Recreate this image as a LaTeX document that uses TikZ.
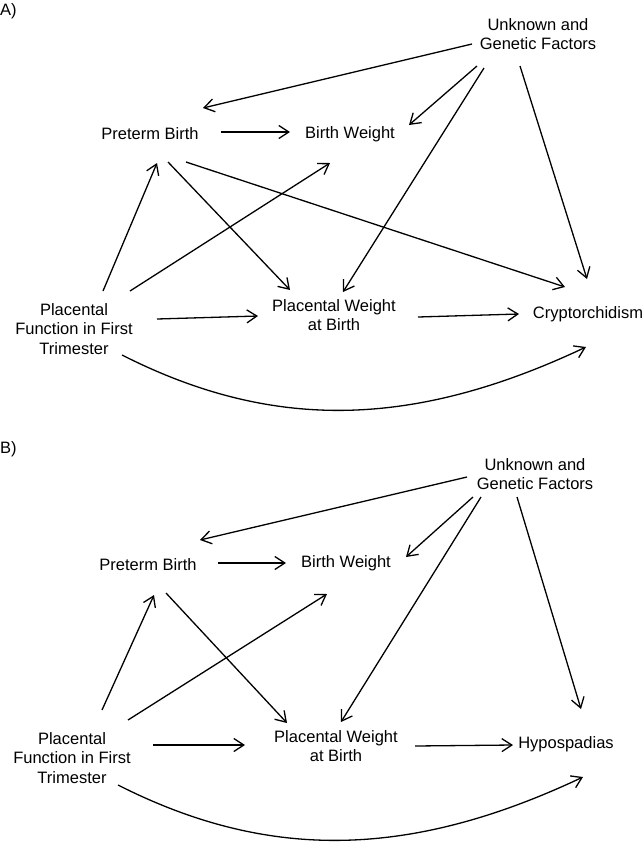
\documentclass[tikz,border=0pt]{standalone}
\usepackage{fontspec}
\setmainfont{Liberation Sans}
\usetikzlibrary{arrows.meta}

\begin{document}
\begin{tikzpicture}[x=1pt,y=-1pt,
  var/.style={font=\fontsize{16.5}{19.5}\selectfont,align=center,inner sep=0pt},
  arr/.style={line width=1.3pt,-{Straight Barb[length=10pt,width=13pt]}}]
  \useasboundingbox (0,0) rectangle (644,847);

  % panel A
  \node[var,anchor=west] (labA) at (0,11)   {A)};
  \node[var]             (ugfA) at (538,34)  {Unknown and\\Genetic Factors};
  \node[var]             (preA) at (150,134) {Preterm Birth};
  \node[var]             (bwA)  at (350,134) {Birth Weight};
  \node[var]             (pfA)  at (74,329)  {Placental\\Function in First\\Trimester};
  \node[var]             (pwbA) at (334,315) {Placental Weight\\at Birth};
  \node[var]             (cryA) at (588,314) {Cryptorchidism};

  \path[arr]
  ([shift={(-66,10)}]ugfA.center) edge ([shift={(53,-26)}]preA.center)
  ([shift={(-61,32)}]ugfA.center) edge ([shift={(59,-9)}]bwA.center)
  ([shift={(-54,34)}]ugfA.center) edge ([shift={(9,-23)}]pwbA.center)
  ([shift={(-18,32)}]ugfA.center) edge ([shift={(-1,-35)}]cryA.center)
  ([shift={(71,-2)}]preA.center)  edge ([shift={(-60,-2)}]bwA.center)
  ([shift={(18,28)}]preA.center)  edge ([shift={(-44,-25)}]pwbA.center)
  ([shift={(36,28)}]preA.center)  edge ([shift={(-23,-27)}]cryA.center)
  ([shift={(29,-38)}]pfA.center)  edge ([shift={(7,29)}]preA.center)
  ([shift={(56,-38)}]pfA.center)  edge ([shift={(-20,29)}]bwA.center)
  ([shift={(83,-10)}]pfA.center)  edge ([shift={(-76,1)}]pwbA.center)
  ([shift={(84,2)}]pwbA.center)   edge ([shift={(-69,0)}]cryA.center);
  \draw[arr] ([shift={(48,26)}]pfA.center) .. controls (270,430) and (410,430) .. ([shift={(-2,33)}]cryA.center);

  % panel B
  \node[var,anchor=west] (labB) at (0,449)   {B)};
  \node[var]             (ugfB) at (535,474) {Unknown and\\Genetic Factors};
  \node[var]             (preB) at (148,565) {Preterm Birth};
  \node[var]             (bwB)  at (346,563) {Birth Weight};
  \node[var]             (pfB)  at (72,758)  {Placental\\Function in First\\Trimester};
  \node[var]             (pwbB) at (336,746) {Placental Weight\\at Birth};
  \node[var]             (hypB) at (566,744) {Hypospadias};

  \path[arr]
  ([shift={(-68,3)}]ugfB.center)  edge ([shift={(52,-25)}]preB.center)
  ([shift={(-62,23)}]ugfB.center) edge ([shift={(60,-6)}]bwB.center)
  ([shift={(-54,23)}]ugfB.center) edge ([shift={(5,-24)}]pwbB.center)
  ([shift={(-18,23)}]ugfB.center) edge ([shift={(15,-35)}]hypB.center)
  ([shift={(70,-2)}]preB.center)  edge ([shift={(-60,0)}]bwB.center)
  ([shift={(18,28)}]preB.center)  edge ([shift={(-49,-23)}]pwbB.center)
  ([shift={(30,-48)}]pfB.center)  edge ([shift={(6,30)}]preB.center)
  ([shift={(56,-38)}]pfB.center)  edge ([shift={(-19,31)}]bwB.center)
  ([shift={(81,-13)}]pfB.center)  edge ([shift={(-91,-1)}]pwbB.center)
  ([shift={(79,0)}]pwbB.center)   edge ([shift={(-53,1)}]hypB.center);
  \draw[arr] ([shift={(46,27)}]pfB.center) .. controls (266,860) and (407,860) .. ([shift={(17,33)}]hypB.center);
\end{tikzpicture}
\end{document}
